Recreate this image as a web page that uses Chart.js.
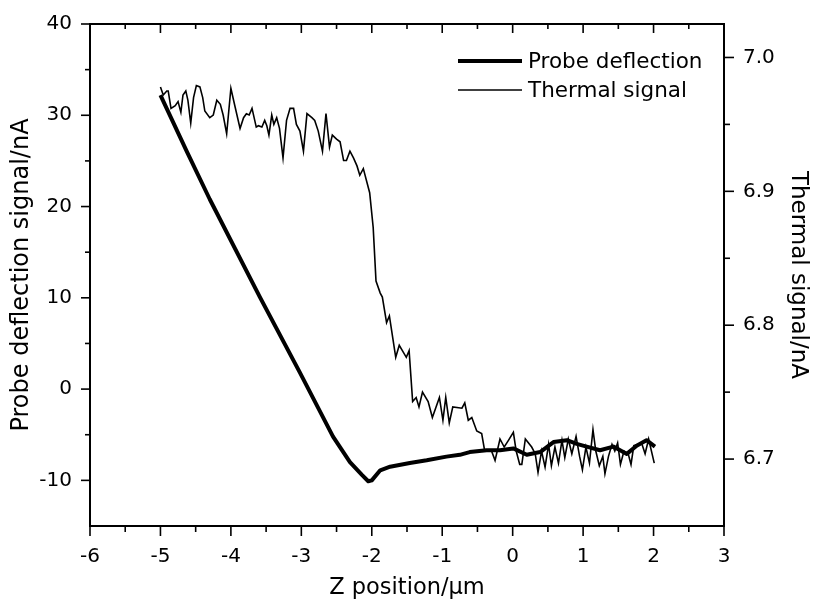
<!DOCTYPE html>
<html>
<head>
<meta charset="utf-8">
<script src="https://cdn.jsdelivr.net/npm/chart.js@4/dist/chart.umd.min.js"></script>
<style>
  html, body { margin: 0; padding: 0; background: #fff; }
  #wrap { width: 813px; height: 599px; }
</style>
</head>
<body>
<div id="wrap"><canvas id="zChart"></canvas></div>
<script>
// probe deflection (left axis, nA)
const probeZ = [-5.00, -4.63, -4.30, -3.59, -3.02, -2.55, -2.31, -2.14, -2.05, -2.00, -1.88, -1.74, -1.46, -1.22,
  -0.94, -0.75, -0.61, -0.37, -0.18, 0.01, 0.20, 0.39, 0.58, 0.77, 0.91, 1.05, 1.24, 1.43, 1.62, 1.76, 1.90, 2.02];
const probeSignal = [32.2, 26.1, 20.8, 10.1, 1.8, -5.2, -8.0, -9.4, -10.1, -10.0, -8.9, -8.5, -8.1, -7.8,
  -7.4, -7.2, -6.9, -6.7, -6.7, -6.5, -7.2, -6.9, -5.8, -5.6, -6.0, -6.3, -6.7, -6.3, -7.1, -6.2, -5.6, -6.3];

// thermal signal (right axis, nA)
const thermalZ = [-5.00, -4.96, -4.91, -4.89, -4.85, -4.79, -4.75, -4.71, -4.68, -4.64, -4.61, -4.57, -4.53, -4.49,
  -4.44, -4.40, -4.37, -4.30, -4.25, -4.20, -4.15, -4.11, -4.06, -4.00, -3.94, -3.87, -3.82, -3.78, -3.74, -3.70,
  -3.64, -3.61, -3.56, -3.52, -3.49, -3.46, -3.42, -3.39, -3.35, -3.31, -3.26, -3.21, -3.16, -3.11, -3.07, -3.02,
  -2.97, -2.92, -2.85, -2.81, -2.76, -2.70, -2.65, -2.60, -2.56, -2.50, -2.45, -2.40, -2.36, -2.31, -2.26, -2.21,
  -2.17, -2.12, -2.07, -2.03, -1.98, -1.94, -1.88, -1.85, -1.79, -1.75, -1.66, -1.61, -1.51, -1.47, -1.42, -1.37,
  -1.33, -1.28, -1.20, -1.14, -1.04, -0.99, -0.95, -0.90, -0.85, -0.72, -0.68, -0.63, -0.58, -0.51, -0.44, -0.40,
  -0.30, -0.25, -0.18, -0.12, -0.06, 0.01, 0.05, 0.10, 0.13, 0.18, 0.27, 0.32, 0.36, 0.41, 0.46, 0.51, 0.55, 0.60,
  0.65, 0.70, 0.74, 0.79, 0.84, 0.90, 0.95, 0.99, 1.04, 1.09, 1.14, 1.18, 1.23, 1.28, 1.31, 1.36, 1.41, 1.45, 1.49,
  1.53, 1.58, 1.64, 1.68, 1.72, 1.78, 1.83, 1.88, 1.93, 2.01];
const thermalSignal = [6.978, 6.972, 6.975, 6.975, 6.962, 6.964, 6.967, 6.959, 6.972, 6.975, 6.968, 6.951, 6.970, 6.979,
  6.978, 6.970, 6.960, 6.955, 6.957, 6.968, 6.965, 6.957, 6.943, 6.977, 6.963, 6.947, 6.955, 6.958, 6.957, 6.962,
  6.948, 6.949, 6.948, 6.953, 6.949, 6.942, 6.957, 6.950, 6.955, 6.947, 6.925, 6.953, 6.962, 6.962, 6.950, 6.945,
  6.930, 6.958, 6.955, 6.953, 6.945, 6.930, 6.958, 6.933, 6.942, 6.939, 6.937, 6.923, 6.923, 6.930, 6.925, 6.919,
  6.912, 6.917, 6.907, 6.899, 6.873, 6.833, 6.824, 6.821, 6.802, 6.807, 6.776, 6.785, 6.776, 6.781, 6.743, 6.746,
  6.739, 6.750, 6.743, 6.731, 6.746, 6.729, 6.746, 6.727, 6.739, 6.738, 6.742, 6.729, 6.731, 6.721, 6.719, 6.707,
  6.706, 6.699, 6.715, 6.709, 6.714, 6.720, 6.706, 6.696, 6.696, 6.715, 6.709, 6.704, 6.690, 6.706, 6.694, 6.711, 6.695, 6.709,
  6.697, 6.714, 6.701, 6.715, 6.704, 6.717, 6.702, 6.692, 6.709, 6.697, 6.722, 6.706, 6.695, 6.702, 6.689, 6.702, 6.711, 6.706, 6.712,
  6.696, 6.706, 6.704, 6.696, 6.710, 6.711, 6.712, 6.704, 6.715, 6.697];

// axis ticks
const xTicks = [-6, -5, -4, -3, -2, -1, 0, 1, 2, 3];
const xMinor = [-5.5, -4.5, -3.5, -2.5, -1.5, -0.5, 0.5, 1.5, 2.5];
const leftTicks = [-10, 0, 10, 20, 30, 40];
const leftMinor = [-5, 5, 15, 25, 35];
const rightTicks = [6.7, 6.8, 6.9, 7.0];
const rightMinor = [6.75, 6.85, 6.95];

const FONT = "'DejaVu Sans', 'Liberation Sans', Arial, sans-serif";

const toPoints = (xs, ys) => xs.map((x, i) => ({ x: x, y: ys[i] }));

// fixed box sizes so the plot area lands where the original has it
const fixBox = (w, h) => s => {
  if (w !== null) s.width = w;
  if (h !== null) s.height = h;
  s.paddingTop = 0; s.paddingBottom = 0; s.paddingLeft = 0; s.paddingRight = 0;
};

// frame, inward/outward tick marks and the legend
const framePlugin = {
  id: 'framePlugin',
  afterDraw(chart) {
    const { ctx, chartArea: a, scales } = chart;
    ctx.save();
    ctx.strokeStyle = '#000';
    ctx.lineWidth = 2;
    ctx.strokeRect(a.left, a.top, a.right - a.left, a.bottom - a.top);

    ctx.lineWidth = 1.6;
    const seg = (x1, y1, x2, y2) => { ctx.beginPath(); ctx.moveTo(x1, y1); ctx.lineTo(x2, y2); ctx.stroke(); };
    xTicks.forEach(v => {
      const p = scales.x.getPixelForValue(v);
      seg(p, a.bottom, p, a.bottom + 10);
      seg(p, a.top, p, a.top + 9);
    });
    xMinor.forEach(v => {
      const p = scales.x.getPixelForValue(v);
      seg(p, a.bottom, p, a.bottom + 6);
      seg(p, a.top, p, a.top + 5);
    });
    leftTicks.forEach(v => { const p = scales.y.getPixelForValue(v); seg(a.left - 9, p, a.left, p); });
    leftMinor.forEach(v => { const p = scales.y.getPixelForValue(v); seg(a.left - 5, p, a.left, p); });
    rightTicks.forEach(v => { const p = scales.y2.getPixelForValue(v); seg(a.right, p, a.right + 10, p); });
    rightMinor.forEach(v => { const p = scales.y2.getPixelForValue(v); seg(a.right, p, a.right + 6, p); });

    // legend
    ctx.fillStyle = '#000';
    ctx.font = '21.5px ' + FONT;
    ctx.textBaseline = 'middle';
    chart.data.datasets.forEach((ds, i) => {
      const y = 61 + i * 29;
      ctx.lineWidth = ds.borderWidth;
      seg(458, y, 522, y);
      ctx.fillText(ds.label, 528, y + 1);
    });
    ctx.restore();
  }
};

new Chart(document.getElementById('zChart'), {
  type: 'line',
  data: {
    datasets: [
      {
        label: 'Probe deflection',
        data: toPoints(probeZ, probeSignal),
        yAxisID: 'y',
        borderColor: '#000',
        borderWidth: 4,
        pointRadius: 0,
        tension: 0,
        borderJoinStyle: 'round'
      },
      {
        label: 'Thermal signal',
        data: toPoints(thermalZ, thermalSignal),
        yAxisID: 'y2',
        borderColor: '#000',
        borderWidth: 1.6,
        pointRadius: 0,
        tension: 0
      }
    ]
  },
  options: {
    responsive: true,
    maintainAspectRatio: false,
    animation: false,
    layout: { padding: { top: 24, left: 0, right: 0, bottom: 0 } },
    plugins: { legend: { display: false }, tooltip: { enabled: false } },
    scales: {
      x: {
        type: 'linear',
        min: -6,
        max: 3,
        afterBuildTicks: s => { s.ticks = xTicks.map(v => ({ value: v })); },
        afterFit: fixBox(null, 73),
        grid: { display: false, drawTicks: false },
        border: { display: false },
        ticks: { color: '#000', font: { family: FONT, size: 20 }, padding: 19, maxRotation: 0, autoSkip: false },
        title: { display: true, text: 'Z position/μm', color: '#000', font: { family: FONT, size: 22.5, lineHeight: 1 }, padding: { top: 0, bottom: 0 } }
      },
      y: {
        position: 'left',
        min: -15,
        max: 40,
        afterBuildTicks: s => { s.ticks = leftTicks.map(v => ({ value: v })); },
        afterFit: fixBox(90, null),
        grid: { display: false, drawTicks: false },
        border: { display: false },
        ticks: { color: '#000', font: { family: FONT, size: 20 }, padding: 18 },
        title: { display: true, text: 'Probe deflection signal/nA', color: '#000', font: { family: FONT, size: 24, lineHeight: 1 }, padding: { top: 10, bottom: 0 } }
      },
      y2: {
        position: 'right',
        min: 6.65,
        max: 7.025,
        afterBuildTicks: s => { s.ticks = rightTicks.map(v => ({ value: v })); },
        afterFit: fixBox(89, null),
        grid: { display: false, drawTicks: false },
        border: { display: false },
        ticks: { color: '#000', font: { family: FONT, size: 20 }, padding: 19, callback: v => v.toFixed(1) },
        title: { display: true, text: 'Thermal signal/nA', color: '#000', font: { family: FONT, size: 23, lineHeight: 1 }, padding: { top: 4, bottom: 0 } }
      }
    }
  },
  plugins: [framePlugin]
});
</script>
</body>
</html>
